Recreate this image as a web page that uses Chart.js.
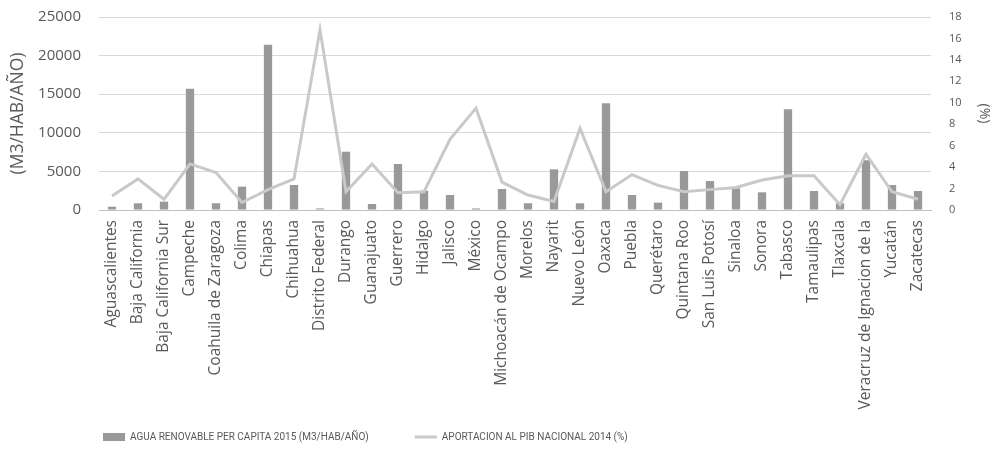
<!DOCTYPE html>
<html>
<head>
<meta charset="utf-8">
<script src="https://cdn.jsdelivr.net/npm/chart.js@4"></script>
<style>
    html, body { margin: 0; padding: 0; background: #ffffff; }
    #wrap { width: 999px; height: 450px; position: relative; }
</style>
</head>
<body>
<div id="wrap"><canvas id="myChart"></canvas></div>
<script>
/* ========== Agua renovable vs PIB por estado =============== */

const estados = [
    'Aguascalientes', 'Baja California', 'Baja California Sur', 'Campeche',
    'Coahuila de Zaragoza', 'Colima', 'Chiapas', 'Chihuahua', 'Distrito Federal',
    'Durango', 'Guanajuato', 'Guerrero', 'Hidalgo', 'Jalisco', 'México',
    'Michoacán de Ocampo', 'Morelos', 'Nayarit', 'Nuevo León', 'Oaxaca', 'Puebla',
    'Querétaro', 'Quintana Roo', 'San Luis Potosí', 'Sinaloa', 'Sonora', 'Tabasco',
    'Tamaulipas', 'Tlaxcala', 'Veracruz de Ignacion de la', 'Yucatán', 'Zacatecas'
];

// m3 por habitante por año
const aguaRenovable = [
    430, 870, 1080, 15700, 870, 3020, 21400, 3240, 200, 7550, 780,
    5960, 2500, 1940, 200, 2720, 870, 5270, 870, 13820, 1940, 950,
    5050, 3750, 2800, 2290, 13040, 2460, 870, 6450, 3240, 2460
];

// % del PIB nacional
const aportacionPib = [
    1.3, 2.9, 1.0, 4.3, 3.5, 0.7, 1.9, 2.9, 16.8, 1.7, 4.3,
    1.6, 1.7, 6.6, 9.5, 2.6, 1.4, 0.8, 7.6, 1.7, 3.3, 2.3,
    1.7, 1.9, 2.1, 2.8, 3.2, 3.2, 0.5, 5.2, 1.7, 1.0
];

const ticksAgua = [0, 5000, 10000, 15000, 20000, 25000];
const ticksPib = [0, 2, 4, 6, 8, 10, 12, 14, 16, 18];

const gris = '#595959';

// la leyenda va a la izquierda y un poco más arriba que su caja
const leyendaIzquierda = {
    id: 'leyendaIzquierda',
    afterLayout(chart) {
        chart.legend.left = 57;
        chart.legend.top = 386;
    }
};

new Chart(document.getElementById('myChart'), {
    data: {
        labels: estados,
        datasets: [{
            type: 'bar',
            label: 'AGUA RENOVABLE PER CAPITA 2015 (M3/HAB/AÑO)',
            data: aguaRenovable,
            backgroundColor: '#999999',
            barPercentage: 0.32,
            categoryPercentage: 1,
            pointStyle: 'rect',
            yAxisID: 'y',
            order: 1
        }, {
            type: 'line',
            label: 'APORTACION AL PIB NACIONAL 2014 (%)',
            data: aportacionPib,
            borderColor: '#c9c9c9',
            backgroundColor: '#c9c9c9',
            borderWidth: 3,
            tension: 0,
            pointRadius: 0,
            pointStyle: 'line',
            yAxisID: 'y1',
            order: 0
        }]
    },
    plugins: [leyendaIzquierda],
    options: {
        responsive: true,
        maintainAspectRatio: false,
        animation: false,
        layout: { padding: { top: 17, bottom: -26 } },
        plugins: {
            tooltip: { enabled: false },
            legend: {
                position: 'bottom',
                align: 'start',
                labels: {
                    usePointStyle: true,
                    pointStyleWidth: 22,
                    boxHeight: 8,
                    padding: 46,
                    color: gris,
                    font: { family: 'Roboto', size: 10 },
                    sort: (a, b) => a.datasetIndex - b.datasetIndex
                }
            }
        },
        scales: {
            x: {
                afterFit: (axis) => { axis.height = 200; },
                grid: { display: false, drawTicks: false },
                border: { display: true, color: '#bfbfbf' },
                ticks: {
                    autoSkip: false,
                    minRotation: 90,
                    maxRotation: 90,
                    padding: 10,
                    color: gris,
                    font: { family: 'Open Sans', size: 15.5 }
                }
            },
            y: {
                position: 'left',
                min: 0,
                max: 25000,
                afterBuildTicks: (axis) => { axis.ticks = ticksAgua.map(v => ({ value: v })); },
                afterFit: (axis) => { axis.width = 99; },
                grid: { color: '#d9d9d9', tickColor: 'rgba(0,0,0,0)', tickLength: 18 },
                border: { display: false },
                ticks: {
                    padding: 0,
                    color: gris,
                    font: { family: 'Open Sans', size: 15 },
                    callback: (v) => String(v)
                },
                title: {
                    display: true,
                    text: '(M3/HAB/AÑO)',
                    color: gris,
                    padding: { top: 8, bottom: 0 },
                    font: { family: 'Open Sans', size: 17.5 }
                }
            },
            y1: {
                position: 'right',
                min: 0,
                max: 18,
                afterBuildTicks: (axis) => { axis.ticks = ticksPib.map(v => ({ value: v })); },
                afterFit: (axis) => { axis.width = 68; },
                grid: { drawOnChartArea: false, tickColor: 'rgba(0,0,0,0)', tickLength: 18 },
                border: { display: false },
                ticks: {
                    padding: 0,
                    color: gris,
                    font: { family: 'Open Sans', size: 11 },
                    callback: (v) => String(v)
                },
                title: {
                    display: true,
                    text: '(%)',
                    color: gris,
                    padding: { top: 7, bottom: 0 },
                    font: { family: 'Open Sans', size: 14 }
                }
            }
        }
    }
});
</script>
</body>
</html>
